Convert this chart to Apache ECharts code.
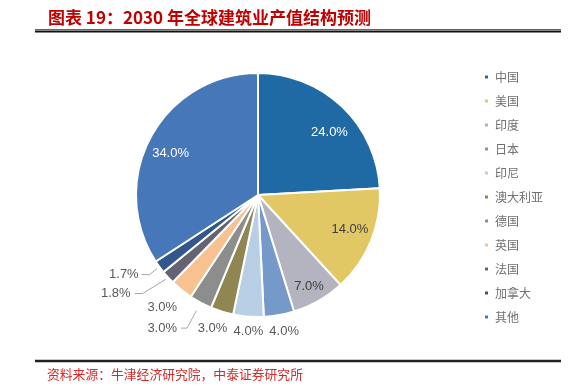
<!DOCTYPE html>
<html>
<head>
<meta charset="utf-8">
<script src="https://cdn.jsdelivr.net/npm/echarts@6/dist/echarts.min.js"></script>
<style>
html,body{margin:0;padding:0;background:#fff;}
#chart{width:587px;height:390px;}
</style>
</head>
<body>
<div id="chart"></div>
<script>
// ---- data ----
const titleText = '图表 19：2030 年全球建筑业产值结构预测';
const sourceText = '资料来源：牛津经济研究院，中泰证券研究所';
const categories = ['中国', '美国', '印度', '日本', '印尼', '澳大利亚', '德国', '英国', '法国', '加拿大', '其他'];
const values = [24, 14, 7, 4, 4, 3, 3, 3, 1.8, 1.7, 34];

// ---- styles ----
const colors = ['#1f6aa5', '#e2c765', '#b4b4c0', '#7599c9', '#b9cfe6', '#8f8651',
                '#8d8d8d', '#f7c28f', '#636374', '#33578c', '#4677b8'];
const labelColors = ['#ffffff', '#404040', '#404040', '#595959', '#595959', '#595959',
                     '#595959', '#595959', '#595959', '#595959', '#ffffff'];
// label placement: distance from centre (px) and angle shift from slice mid-angle (deg)
const labelDist = [95, 98, 105, 139, 137, 141, 164, 148, 173, 156, 97];
const labelShift = [5.4, -1.9, 0.8, -0.9, -0.5, 1.6, 7.7, 1.4, 7.7, 5.4, -2.8];
// leader lines: [start radius, gap from label, horizontal length] or null
const leader = [null, null, null, null, null, null, [131, 4, 6], null, [125, 4, 8], [125, 3, 8], null];

const CX = 258, CY = 195, R = 122;

const total = values.reduce((a, b) => a + b, 0);
const midAngle = [];
let cum = 0;
values.forEach(v => { midAngle.push((cum + v / 2) / total * 360); cum += v; });
function polar(angleDeg, r) {
  const a = angleDeg * Math.PI / 180;
  return [CX + r * Math.sin(a), CY - r * Math.cos(a)];
}

const chart = echarts.init(document.getElementById('chart'), null, {renderer: 'canvas'});
const option = {
  animation: false,
  backgroundColor: '#ffffff',
  color: colors,
  legend: {
    orient: 'vertical',
    left: 478,
    top: 66,
    itemWidth: 5,
    itemHeight: 5,
    itemGap: 12,
    icon: 'rect',
    selectedMode: false,
    data: categories,
    textStyle: {fontSize: 12, color: '#707070', fontFamily: 'Noto Sans CJK SC', padding: [0, 0, 0, 1]}
  },
  graphic: [
    {type: 'text', left: 48, top: 9, style: {text: titleText, fill: '#c00000', font: 'bold 17px "Noto Sans CJK SC"'}},
    {type: 'line', shape: {x1: 35, y1: 29.5, x2: 561, y2: 29.5}, style: {stroke: '#666', lineWidth: 1}},
    {type: 'line', shape: {x1: 35, y1: 31.5, x2: 561, y2: 31.5}, style: {stroke: '#111', lineWidth: 2}},
    {type: 'line', shape: {x1: 35, y1: 361, x2: 561, y2: 361}, style: {stroke: '#222', lineWidth: 2.5}},
    {type: 'text', left: 47, top: 368, style: {text: sourceText, fill: '#d42a2a', font: '12.8px "Noto Sans CJK SC"'}}
  ],
  series: [{
    type: 'pie',
    center: [CX, CY],
    radius: R,
    startAngle: 90,
    clockwise: true,
    avoidLabelOverlap: false,
    silent: true,
    itemStyle: {borderColor: '#ffffff', borderWidth: 2},
    label: {
      show: true,
      position: 'outside',
      fontSize: 13,
      fontFamily: 'Liberation Sans, Arial, sans-serif',
      formatter: p => p.value.toFixed(1) + '%'
    },
    labelLine: {show: false, lineStyle: {color: '#a6a6a6', width: 1}},
    labelLayout: function (params) {
      const i = params.dataIndex;
      const pos = polar(midAngle[i] + labelShift[i], labelDist[i]);
      const out = {x: pos[0], y: pos[1], align: 'center', verticalAlign: 'middle'};
      if (leader[i]) {
        const w = params.labelRect.width;
        const right = pos[0] + w / 2 + leader[i][1];
        out.labelLinePoints = [polar(midAngle[i], leader[i][0]), [right + leader[i][2], pos[1]], [right, pos[1]]];
      }
      return out;
    },
    data: categories.map((name, i) => ({
      name: name,
      value: values[i],
      label: {color: labelColors[i]},
      labelLine: {show: !!leader[i]}
    }))
  }]
};
chart.setOption(option);
</script>
</body>
</html>
